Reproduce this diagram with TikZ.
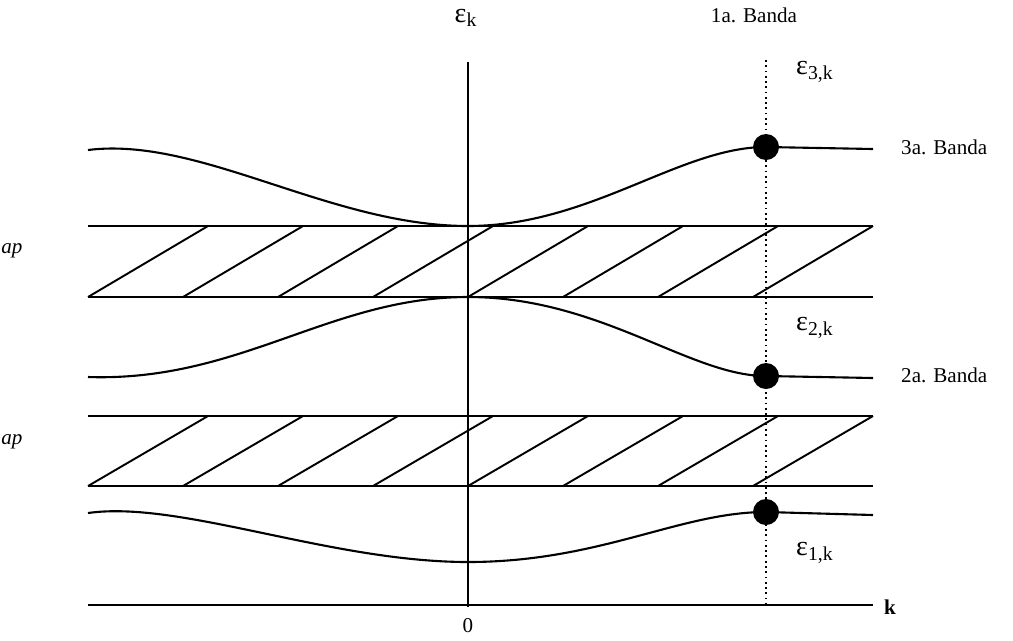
\documentclass[tikz,border=0pt]{standalone}
\usepackage{fontspec}
\setmainfont{Liberation Serif}
\begin{document}
\begin{tikzpicture}[x=0.02cm,y=-0.02cm,
  curve/.style={line width=1.2pt},
  bandline/.style={line width=1.3pt},
  hatch/.style={line width=1.1pt},
  lbl/.style={font=\fontsize{12}{14}\selectfont},
  eps/.style={font=\fontsize{16}{18}\selectfont}]
\useasboundingbox (0,0) rectangle (1013,640);

% axes
\draw[line width=1.2pt] (468,62) -- (468,607);
\draw[line width=1.2pt] (88,605) -- (873,605);
\draw[dotted,line width=1pt] (766,60) -- (766,605);

% gaps
\draw[bandline] (88,226) -- (873,226);
\draw[bandline] (88,297) -- (873,297);
\foreach \x in {88,183,...,753}
  \draw[hatch] (\x,297) -- ++(120,-71);
\draw[bandline] (88,416) -- (873,416);
\draw[bandline] (88,486) -- (873,486);
\foreach \x in {88,183,...,753}
  \draw[hatch] (\x,486) -- ++(120,-70);

% bands
\draw[curve] (88,150) .. controls (200,136) and (330,226) .. (468,226)
  .. controls (590,226) and (680,147) .. (766,147) -- (873,149);
\draw[curve] (88,377) .. controls (240,382) and (330,297) .. (468,297)
  .. controls (600,297) and (690,376) .. (766,376) -- (873,378);
\draw[curve] (88,513) .. controls (180,500) and (330,562) .. (468,562)
  .. controls (600,562) and (680,512) .. (766,512) -- (873,515);

\fill (766,147) circle[radius=0.26cm];
\fill (766,376) circle[radius=0.26cm];
\fill (766,512) circle[radius=0.26cm];

% labels
\node[eps] (ek) at (466,18) {ε\textsubscript{k}};
\node[lbl] (zero) at (468,626) {0};
\node[lbl,anchor=west] (kk) at (878,607) {\textbf{k}};
\node[lbl] (b1) at (754,15) {1a. Banda};
\node[lbl,anchor=west] (b3) at (895,147) {3a. Banda};
\node[lbl,anchor=west] (b2) at (895,375) {2a. Banda};
\node[eps,anchor=west] (e3) at (790,72) {ε\textsubscript{3,k}};
\node[eps,anchor=west] (e2) at (790,328) {ε\textsubscript{2,k}};
\node[eps,anchor=west] (e1) at (790,553) {ε\textsubscript{1,k}};
\node[lbl,anchor=base west,inner sep=0pt,font=\fontsize{12}{14}\selectfont\itshape] (g1) at (1,253) {ap};
\node[lbl,anchor=base west,inner sep=0pt,font=\fontsize{12}{14}\selectfont\itshape] (g2) at (1,444) {ap};
\end{tikzpicture}
\end{document}
